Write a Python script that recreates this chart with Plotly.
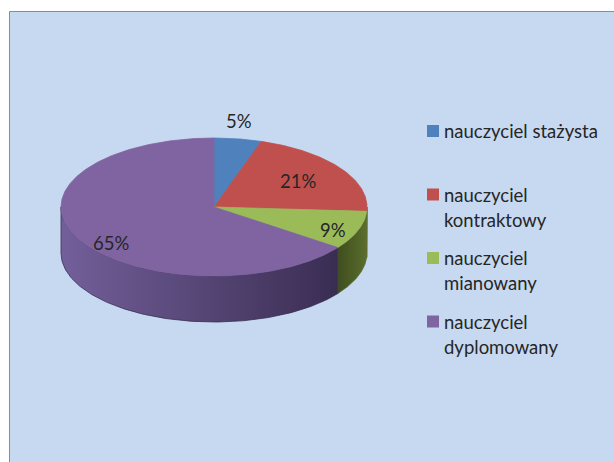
import numpy as np
import plotly.graph_objects as go

# ---- data ----
labels = ["nauczyciel stażysta", "nauczyciel kontraktowy", "nauczyciel mianowany", "nauczyciel dyplomowany"]
legend_lines = [["nauczyciel stażysta"], ["nauczyciel", "kontraktowy"], ["nauczyciel", "mianowany"], ["nauczyciel", "dyplomowany"]]
values = [5, 21, 9, 65]

# ---- style ----
top_colors = ["#4F81BD", "#C0504D", "#9BBB59", "#8064A2"]
side_colors = [("#3A6294", "#2E4F78"), ("#8E3B39", "#7A3230"), ("#3F4D1E", "#5A6E2C"), ("#735F9A", "#3A2D52")]
W, H = 614, 462
cx, cy, rx, ry, depth = 214, 207, 153, 69, 46
lab_fx = [1.045, 0.664, 0.827, 0.756]
lab_fy = [1.262, 0.670, 0.984, 1.149]
FONT = "Lato"
TXT = "#262626"

fig = go.Figure()

def pt(theta_deg, dy=0.0):
    t = np.radians(theta_deg)
    return cx + rx * np.sin(t), cy - ry * np.cos(t) + dy

total = float(sum(values))
bounds = np.concatenate([[0], np.cumsum(values)]) / total * 360.0

# side walls (front half: 90..270 deg clockwise from top)
for i in range(len(values)):
    a0, a1 = bounds[i], bounds[i + 1]
    s, e = max(a0, 90.0), min(a1, 270.0)
    if e <= s:
        continue
    th = np.linspace(s, e, 120)
    xt, yt = pt(th)
    xb, yb = pt(th[::-1], depth)
    xs = np.concatenate([xt, xb, [xt[0]]])
    ys = np.concatenate([yt, yb, [yt[0]]])
    c1, c2 = side_colors[i]
    fig.add_trace(go.Scatter(
        x=xs, y=ys, mode="lines", fill="toself",
        line=dict(width=0.8, color=c2), fillcolor=c2,
        fillgradient=dict(type="horizontal", colorscale=[[0, c1], [1, c2]],
                          start=float(xs.min()), stop=float(xs.max())),
        hoverinfo="skip", showlegend=False))

# top slices
for i in range(len(values)):
    a0, a1 = bounds[i], bounds[i + 1]
    th = np.linspace(a0, a1, max(8, int((a1 - a0) * 2)))
    xa, ya = pt(th)
    xs = np.concatenate([[cx], xa, [cx]])
    ys = np.concatenate([[cy], ya, [cy]])
    fig.add_trace(go.Scatter(
        x=xs, y=ys, mode="lines", fill="toself",
        line=dict(width=0.8, color=top_colors[i]), fillcolor=top_colors[i],
        hoverinfo="skip", showlegend=False, name=labels[i]))

# percentage labels
mids = (bounds[:-1] + bounds[1:]) / 2
for i, v in enumerate(values):
    t = np.radians(mids[i])
    lx = cx + rx * np.sin(t) * lab_fx[i]
    ly = cy - ry * np.cos(t) * lab_fy[i]
    fig.add_annotation(x=lx, y=ly, text=f"{round(v / total * 100)}%", showarrow=False,
                       font=dict(family=FONT, size=18.5, color=TXT), xanchor="center", yanchor="middle")

# legend (Excel style)
leg_x0, leg_y0, entry_step, line_step, sw = 427, 131, 63.5, 25, 12
for i, lines in enumerate(legend_lines):
    y0 = leg_y0 + i * entry_step
    fig.add_shape(type="rect", xref="x", yref="y", x0=leg_x0, x1=leg_x0 + sw,
                  y0=y0 - sw / 2, y1=y0 + sw / 2, fillcolor=top_colors[i], line=dict(width=0))
    for j, ln in enumerate(lines):
        fig.add_annotation(x=leg_x0 + 15, y=y0 + j * line_step, text=ln, showarrow=False,
                           font=dict(family=FONT, size=18.5, color=TXT), xanchor="left", yanchor="middle")

# chart area background + border
fig.add_shape(type="rect", xref="x", yref="y", x0=9.5, x1=W + 10, y0=11.5, y1=H + 10,
              fillcolor="#C6D9F1", line=dict(color="#8C8C8C", width=1), layer="below")

fig.update_layout(
    width=W, height=H, margin=dict(l=0, r=0, t=0, b=0),
    paper_bgcolor="white", plot_bgcolor="white", showlegend=False,
    xaxis=dict(range=[0, W], visible=False, fixedrange=True),
    yaxis=dict(range=[H, 0], visible=False, fixedrange=True),
)
fig.write_html("out.html", config={"displayModeBar": False},
               post_script="document.body.style.margin='0';document.body.style.overflow='hidden';")
